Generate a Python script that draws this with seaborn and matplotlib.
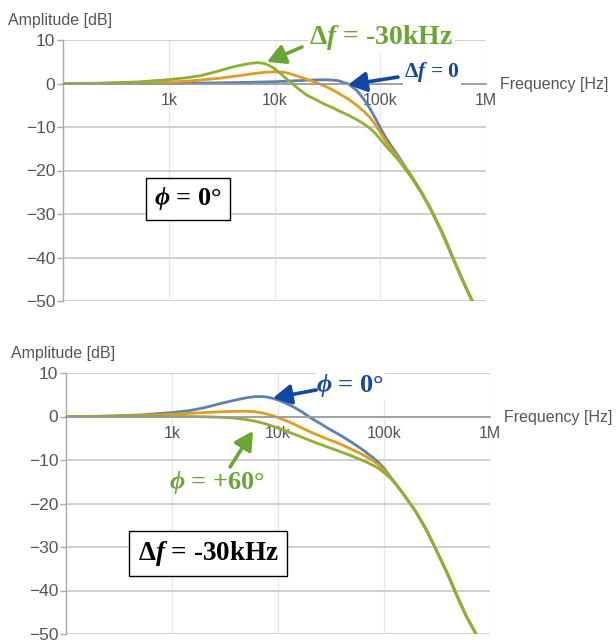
import numpy as np
import pandas as pd
import matplotlib
matplotlib.use("Agg")
import matplotlib.pyplot as plt
from matplotlib.ticker import NullLocator
import seaborn as sns

freq = [100, 200, 500, 1e3, 1.5e3, 2e3, 3e3, 4e3, 5e3, 6e3, 7e3, 8e3, 9e3, 1e4,
        1.2e4, 1.4e4, 1.7e4, 2e4, 2.5e4, 3e4, 3.5e4, 4e4, 5e4, 6e4, 7e4, 8e4, 9e4,
        1e5, 1.15e5, 1.3e5, 1.5e5, 1.75e5, 2e5, 2.5e5, 3e5, 3.5e5, 4e5, 5e5, 6e5, 7.5e5]

# top panel: phi = 0 deg, three detunings
top_df0 = [0, 0, 0.02, 0.05, 0.08, 0.1, 0.15, 0.2, 0.25, 0.28, 0.32, 0.35, 0.38, 0.42,
           0.5, 0.57, 0.66, 0.75, 0.83, 0.85, 0.8, 0.65, -0.1, -1.6, -3.6, -5.8, -8.0,
           -10.2, -12.8, -14.7, -16.9, -19.4, -21.5, -25.3, -28.8, -32.1, -35.1, -40.7,
           -45.1, -50.2]
top_df15 = [0, 0.02, 0.12, 0.3, 0.55, 0.8, 1.2, 1.6, 1.9, 2.2, 2.4, 2.55, 2.65, 2.7,
            2.6, 2.25, 1.6, 1.0, 0.2, -0.6, -1.4, -2.2, -3.6, -5.0, -6.4, -7.8, -9.5,
            -11.3, -13.6, -15.3, -17.3, -19.6, -21.6, -25.4, -28.9, -32.2, -35.2, -40.8,
            -45.2, -50.3]
top_df30 = [0, 0.05, 0.35, 0.9, 1.35, 1.8, 2.9, 3.8, 4.3, 4.65, 4.8, 4.6, 4.1, 3.4,
            1.8, 0.4, -1.3, -2.6, -3.8, -4.8, -5.5, -6.2, -7.3, -8.3, -9.3, -10.3, -11.5,
            -12.8, -14.6, -16.0, -17.7, -19.9, -21.8, -25.5, -29.0, -32.3, -35.3, -40.9,
            -45.3, -50.4]

# bottom panel: df = -30 kHz, three phases
bot_phi0 = [0, 0.05, 0.35, 0.9, 1.4, 2.0, 3.1, 3.8, 4.3, 4.55, 4.6, 4.45, 4.15, 3.8,
            3.0, 2.2, 1.0, -0.2, -1.6, -2.8, -3.7, -4.5, -6.0, -7.3, -8.5, -9.6, -10.7,
            -11.9, -13.9, -15.6, -17.6, -19.9, -21.9, -26.0, -29.9, -33.3, -36.3, -41.8,
            -46.0, -50.3]
bot_phi30 = [0, 0.02, 0.2, 0.5, 0.72, 0.9, 1.1, 1.2, 1.2, 1.1, 0.85, 0.5, 0.15, -0.25,
             -1.0, -1.7, -2.7, -3.5, -4.5, -5.3, -5.9, -6.5, -7.6, -8.5, -9.4, -10.3, -11.2,
             -12.4, -14.1, -15.6, -17.6, -19.9, -21.9, -26.0, -29.9, -33.3, -36.3, -41.8,
             -46.0, -50.3]
bot_phi60 = [0, 0, 0, 0, -0.02, -0.05, -0.2, -0.4, -0.7, -1.05, -1.45, -1.85, -2.25, -2.65,
             -3.4, -4.0, -4.8, -5.5, -6.4, -7.1, -7.7, -8.2, -9.1, -9.9, -10.6, -11.3, -12.0,
             -12.9, -14.2, -15.6, -17.6, -19.9, -21.9, -26.0, -29.9, -33.3, -36.3, -41.8,
             -46.0, -50.3]

xticks = [1e3, 1e4, 1e5, 1e6]
xtick_labels = ["1k", "10k", "100k", "1M"]
yticks = [-50, -40, -30, -20, -10, 0, 10]

line_colors = ["#5e81b5", "#e19c24", "#8fb032"]
green_txt = "#6aa633"
blue_txt = "#1346a6"
gray_txt = "#555555"

sns.set_theme(style="white")
plt.rcParams["font.family"] = ["Liberation Sans", "DejaVu Sans"]
plt.rcParams["mathtext.fontset"] = "custom"
plt.rcParams["mathtext.rm"] = "Liberation Serif:bold"
plt.rcParams["mathtext.bf"] = "Liberation Serif:bold"
plt.rcParams["mathtext.it"] = "Liberation Serif:bold:italic"


def make_frame(series):
    rows = []
    for name, vals in series:
        for f, v in zip(freq, vals):
            rows.append({"freq": f, "dB": v, "curve": name})
    return pd.DataFrame(rows)


def style_axes(ax):
    ax.set_xscale("log")
    ax.set_xlim(100, 1e6)
    ax.set_ylim(-50, 10)
    ax.set_xticks(xticks)
    ax.set_xticklabels(xtick_labels)
    ax.xaxis.set_minor_locator(NullLocator())
    ax.set_yticks(yticks)
    ax.set_yticklabels([str(t).replace("-", "\u2212") for t in yticks])
    ax.set_xlabel("")
    ax.set_ylabel("")
    ax.grid(axis="y", color="#cccccc", lw=1.3)
    ax.grid(axis="x", color="#e6e6e6", lw=0.9)
    ax.set_axisbelow(True)
    ax.spines["top"].set_visible(False)
    ax.spines["right"].set_visible(False)
    ax.spines["left"].set_color("#aaaaaa")
    ax.spines["left"].set_linewidth(1.0)
    ax.spines["bottom"].set_position(("data", 0))
    ax.spines["bottom"].set_color("#999999")
    ax.spines["bottom"].set_linewidth(1.2)
    ax.tick_params(axis="x", length=0, pad=7, labelsize=11.5, labelcolor=gray_txt)
    ax.tick_params(axis="y", left=True, length=4, width=1, color="#aaaaaa", pad=1.5,
                   labelsize=12.5, labelcolor=gray_txt)
    ax.text(1.033, 0.831, "Frequency [Hz]", transform=ax.transAxes, ha="left",
            va="center", fontsize=11.5, color=gray_txt)
    ax.text(-0.13, 1.075, "Amplitude [dB]", transform=ax.transAxes, ha="left",
            va="center", fontsize=11.5, color=gray_txt)


def arrow(ax, tail, head, color):
    ax.annotate("", xy=head, xycoords="axes fraction", xytext=tail,
                textcoords="axes fraction", annotation_clip=False,
                arrowprops=dict(arrowstyle="-|>,head_length=0.55,head_width=0.3",
                                color=color, lw=2.6, mutation_scale=20,
                                shrinkA=0, shrinkB=0))


serif = dict(fontfamily="Liberation Serif", fontweight="bold")

fig = plt.figure(figsize=(6.16, 6.4), dpi=100)
ax1 = fig.add_axes([63 / 616, 1 - 301 / 640, 423 / 616, 261 / 640])
ax2 = fig.add_axes([66 / 616, 1 - 634 / 640, 424 / 616, 261 / 640])

top = make_frame([("df0", top_df0), ("df15", top_df15), ("df30", top_df30)])
sns.lineplot(data=top, x="freq", y="dB", hue="curve", palette=line_colors,
             linewidth=2.0, legend=False, ax=ax1)
style_axes(ax1)

bot = make_frame([("phi0", bot_phi0), ("phi30", bot_phi30), ("phi60", bot_phi60)])
sns.lineplot(data=bot, x="freq", y="dB", hue="curve", palette=line_colors,
             linewidth=2.0, legend=False, ax=ax2)
style_axes(ax2)

# top panel annotations
ax1.text(0.752, 1.011, r"$\Delta f$ = -30kHz", transform=ax1.transAxes, ha="center",
         va="center", fontsize=20, color=green_txt,
         bbox=dict(fc="white", ec="none", pad=1), **serif)
arrow(ax1, (0.565, 0.973), (0.482, 0.916), green_txt)
ax1.text(0.872, 0.877, r"$\Delta f$ = 0", transform=ax1.transAxes, ha="center",
         va="center", fontsize=15.5, color=blue_txt,
         bbox=dict(fc="white", ec="none", pad=1), **serif)
arrow(ax1, (0.792, 0.858), (0.674, 0.828), blue_txt)
ax1.text(0.296, 0.391, r"$\phi$ = 0°", transform=ax1.transAxes, ha="center",
         va="center", fontsize=19, color="black",
         bbox=dict(boxstyle="square,pad=0.3", fc="white", ec="black", lw=1), **serif)

# bottom panel annotations
ax2.text(0.670, 0.954, r"$\phi$ = 0°", transform=ax2.transAxes, ha="center",
         va="center", fontsize=19, color=blue_txt,
         bbox=dict(fc="white", ec="none", pad=1), **serif)
arrow(ax2, (0.590, 0.935), (0.488, 0.904), blue_txt)
ax2.text(0.356, 0.582, r"$\phi$ = +60°", transform=ax2.transAxes, ha="center",
         va="center", fontsize=19, color=green_txt, **serif)
arrow(ax2, (0.387, 0.640), (0.441, 0.778), green_txt)
ax2.text(0.335, 0.307, r"$\Delta f$ = -30kHz", transform=ax2.transAxes, ha="center",
         va="center", fontsize=19.5, color="black",
         bbox=dict(boxstyle="square,pad=0.3", fc="white", ec="black", lw=1), **serif)

fig.savefig("out.png", dpi=100)
